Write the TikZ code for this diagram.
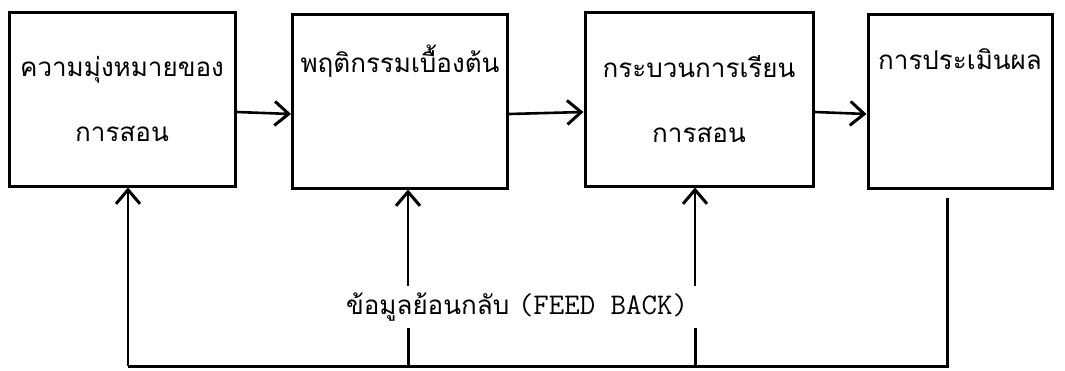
\documentclass[tikz,border=0pt]{standalone}
\usepackage{fontspec}
\usepackage{tikz}
\usetikzlibrary{arrows.meta}
\newfontfamily\thaifont[Script=Thai]{Loma}

\begin{document}
\begin{tikzpicture}[x=1pt,y=-1pt,
  box/.style={draw, line width=3pt, minimum height=174pt, inner sep=2pt, align=center,
    font=\thaifont\fontsize{26}{65}\selectfont},
  link/.style={line width=2.6pt, -{Straight Barb[length=14pt,width=24pt,line width=3pt]}},
  feed/.style={line width=3pt}]
\useasboundingbox (0,0) rectangle (1065,370);
\node[box, minimum width=226pt] (Aim) at (122,99) {ความมุ่งหมายของ\\การสอน};
\node[box, minimum width=215pt] (Entry) at (400,101) {พฤติกรรมเบื้องต้น\\\strut};
\node[box, minimum width=228pt] (Proc) at (699,99) {กระบวนการเรียน\\การสอน};
\node[box, minimum width=184pt] (Eval) at (960,101) {การประเมินผล\\\strut};
\node[inner sep=0pt, minimum height=42pt] (FB) at (517,307) {\thaifont\fontsize{26}{30}\selectfont ข้อมูลย้อนกลับ\ {\ttfamily\fontsize{30}{30}\selectfont(FEED BACK)}};
\coordinate (L) at (128,366);
\coordinate (R) at (947,366);
\coordinate (b2) at (408,366);
\coordinate (b3) at (695,366);
\draw [link] ([yshift=-13pt]Aim.east) -- ([yshift=-13pt]Entry.west);
\draw [link] ([yshift=-13pt]Entry.east) -- ([yshift=-13pt]Proc.west);
\draw [link] ([yshift=-13pt]Proc.east) -- ([yshift=-13pt]Eval.west);
\draw [feed] ([yshift=-8pt]Eval.south -| R) -- (R) -- (L);
\draw [link] (L) -- (Aim.south -| L);
\draw [feed] (b2) -- (b2 |- FB.south);
\draw [feed] (b3) -- (b3 |- FB.south);
\draw [link] (b2 |- FB.north) -- (Entry.south -| b2);
\draw [link] (b3 |- FB.north) -- (Proc.south -| b3);
\end{tikzpicture}
\end{document}
